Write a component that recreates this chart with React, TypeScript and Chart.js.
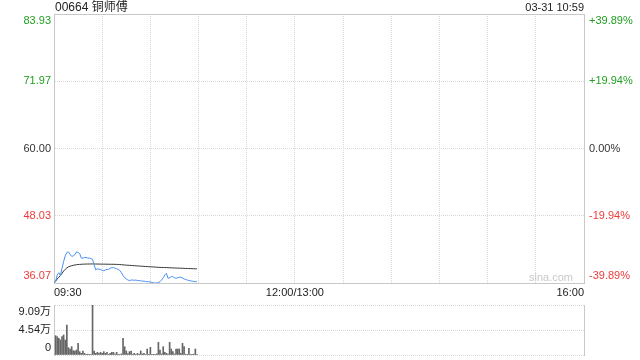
import React, { useEffect, useRef } from 'react';
import { Chart, registerables } from 'chart.js';

Chart.register(...registerables);

const stockTitle = '00664 铜师傅';
const timeStamp = '03-31 10:59';
const watermark = 'sina.com';

// minutes since 09:30 (trading minutes, lunch break removed)
const xTickMinutes = [0, 30, 60, 90, 120, 150, 180, 210, 240, 270, 300, 330];
const xTickLabels = ['09:30', '', '', '', '', '12:00/13:00', '', '', '', '', '', '16:00'];

const priceTickValues = [36.07, 48.035, 60.0, 71.965, 83.93];
const priceTickLabels = ['36.07', '48.03', '60.00', '71.97', '83.93'];
const pctTickLabels = ['-39.89%', '-19.94%', '0.00%', '+19.94%', '+39.89%'];
const tickColors = ['#f03a3a', '#f03a3a', '#333333', '#1f9f1f', '#1f9f1f'];

const volTickValues = [0, 45450, 90900];
const volTickLabels = ['0', '4.54万', '9.09万'];

const priceSeries = [
  36.07, 36.3, 37.5, 37.9, 37.4, 38.7, 39.9, 40.9, 41.5, 41.6,
  41.2, 40.8, 40.9, 41.1, 41.6, 41.5, 41.3, 40.5, 40.5, 40.6,
  40.6, 40.5, 40.5, 40.4, 40.3, 39.3, 38.4, 38.6, 38.5, 38.5,
  38.3, 38.25, 38.4, 38.5, 38.5, 38.7, 38.8, 38.8, 38.7, 38.6,
  38.5, 38.3, 37.9, 37.4, 37.0, 36.8, 36.6, 36.5, 36.6, 36.6,
  36.55, 36.6, 36.5, 36.5, 36.45, 36.4, 36.4, 36.35, 36.3, 36.3,
  36.25, 36.15, 36.1, 36.07, 36.07, 36.15, 36.3, 36.6, 37.0, 37.5,
  37.8, 36.9, 37.0, 37.2, 37.2, 37.0, 36.9, 37.0, 37.1, 37.1,
  36.95, 36.8, 36.7, 36.6, 36.5, 36.45, 36.4, 36.35, 36.3, 36.3,
];

const avgSeries = [
  36.07, 36.4, 36.8, 37.1, 37.4, 37.8, 38.2, 38.5, 38.75, 38.95,
  39.05, 39.15, 39.22, 39.28, 39.32, 39.36, 39.38, 39.4, 39.42, 39.43,
  39.44, 39.45, 39.45, 39.46, 39.46, 39.45, 39.45, 39.44, 39.44, 39.43,
  39.43, 39.42, 39.42, 39.41, 39.41, 39.4, 39.4, 39.4, 39.39, 39.38,
  39.37, 39.35, 39.33, 39.3, 39.27, 39.25, 39.23, 39.21, 39.19, 39.17,
  39.15, 39.13, 39.11, 39.09, 39.07, 39.05, 39.03, 39.01, 38.99, 38.97,
  38.96, 38.94, 38.92, 38.9, 38.88, 38.86, 38.85, 38.84, 38.83, 38.82,
  38.81, 38.79, 38.78, 38.77, 38.76, 38.74, 38.73, 38.72, 38.71, 38.7,
  38.69, 38.67, 38.66, 38.65, 38.64, 38.63, 38.62, 38.61, 38.6, 38.59,
];

const volumeSeries = [
  0, 35100, 33300, 30300, 27300, 33300, 36400, 27300, 54500, 13300,
  10900, 15200, 7900, 7300, 9100, 21200, 6100, 3000, 7300, 3000,
  1200, 1500, 1000, 800, 90900, 7300, 3000, 4800, 3000, 4800,
  3000, 6100, 3000, 4800, 1200, 3000, 4800, 4800, 1500, 4800,
  1200, 800, 2000, 30300, 15000, 7300, 2500, 6100, 7300, 1500,
  3000, 1000, 3000, 1000, 7300, 2000, 3000, 1000, 10900, 1200,
  13900, 1200, 1200, 1000, 2000, 23000, 9100, 2000, 15200, 4800,
  3000, 1500, 23000, 10900, 6100, 2000, 10900, 10900, 10900, 3000,
  21200, 15200, 1200, 1200, 12100, 1200, 1200, 1500, 10900, 1200,
];

const FONT_FAMILY = "'Liberation Sans', Arial, 'Noto Sans CJK SC', sans-serif";
const tickFont = { family: FONT_FAMILY, size: 11 };
const GRID = '#d8d8d8';
const BORDER = '#c8c8c8';

function edgeLabel(label: string, index: number, count: number): string | string[] {
  if (index === 0) return [label, ''];
  if (index === count - 1) return ['', label];
  return label;
}

function fixWidth(width: number) {
  return (s: any) => {
    s.width = width;
    s.paddingTop = 0;
    s.paddingBottom = 0;
  };
}

export default function App() {
  const priceRef = useRef<HTMLCanvasElement | null>(null);
  const volRef = useRef<HTMLCanvasElement | null>(null);

  useEffect(() => {
    if (!priceRef.current || !volRef.current) return;
    Chart.defaults.font.family = FONT_FAMILY;

    const priceChart = new Chart(priceRef.current, {
      type: 'line',
      data: {
        datasets: [
          {
            label: '价格',
            data: priceSeries.map((y, i) => ({ x: i, y })),
            borderColor: '#4a8ef5',
            borderWidth: 1,
            pointRadius: 0,
            tension: 0,
            xAxisID: 'x',
            yAxisID: 'y',
          },
          {
            label: '均价',
            data: avgSeries.map((y, i) => ({ x: i, y })),
            borderColor: '#333333',
            borderWidth: 1,
            pointRadius: 0,
            tension: 0,
            xAxisID: 'x',
            yAxisID: 'y',
          },
        ],
      },
      options: {
        animation: false,
        responsive: false,
        maintainAspectRatio: false,
        layout: { padding: { top: 14, left: 0, right: 0, bottom: 0 } },
        plugins: { legend: { display: false }, tooltip: { enabled: false } },
        scales: {
          x: {
            type: 'linear',
            position: 'bottom',
            min: 0,
            max: 330,
            afterBuildTicks: (s: any) => {
              s.ticks = xTickMinutes.map((v) => ({ value: v }));
            },
            afterFit: (s: any) => {
              s.height = 17;
              s.paddingLeft = 0;
              s.paddingRight = 0;
            },
            ticks: {
              autoSkip: false,
              maxRotation: 0,
              align: 'inner',
              padding: 3,
              color: '#222222',
              font: tickFont,
              callback: (_v: any, i: number) => xTickLabels[i],
            },
            grid: { color: GRID, drawTicks: false },
            border: { display: true, color: BORDER, dash: [1, 1] },
          },
          xTop: {
            type: 'linear',
            position: 'top',
            min: 0,
            max: 330,
            afterFit: (s: any) => {
              s.height = 0;
              s.paddingLeft = 0;
              s.paddingRight = 0;
            },
            ticks: { display: false },
            grid: { display: false, drawTicks: false },
            border: { display: true, color: BORDER },
          },
          y: {
            type: 'linear',
            position: 'left',
            min: priceTickValues[0],
            max: priceTickValues[priceTickValues.length - 1],
            afterBuildTicks: (s: any) => {
              s.ticks = priceTickValues.map((v) => ({ value: v }));
            },
            afterFit: fixWidth(54),
            ticks: {
              padding: 3,
              font: tickFont,
              color: (ctx: any) => tickColors[ctx.index] || '#333',
              callback: (_v: any, i: number) => edgeLabel(priceTickLabels[i], i, priceTickLabels.length),
            },
            grid: { color: GRID, drawTicks: false },
            border: { display: true, color: BORDER, dash: [1, 1] },
          },
          yRight: {
            type: 'linear',
            position: 'right',
            min: priceTickValues[0],
            max: priceTickValues[priceTickValues.length - 1],
            afterBuildTicks: (s: any) => {
              s.ticks = priceTickValues.map((v) => ({ value: v }));
            },
            afterFit: fixWidth(56),
            ticks: {
              padding: 5,
              font: tickFont,
              color: (ctx: any) => tickColors[ctx.index] || '#333',
              callback: (_v: any, i: number) => edgeLabel(pctTickLabels[i], i, pctTickLabels.length),
            },
            grid: { drawOnChartArea: false, drawTicks: false },
            border: { display: true, color: BORDER },
          },
        },
      } as any,
    });

    const volChart = new Chart(volRef.current, {
      type: 'bar',
      data: {
        datasets: [
          {
            label: '成交量',
            data: volumeSeries.map((y, i) => ({ x: i, y })),
            backgroundColor: '#666666',
            barThickness: 1,
            xAxisID: 'x',
            yAxisID: 'y',
          },
        ],
      },
      options: {
        animation: false,
        responsive: false,
        maintainAspectRatio: false,
        layout: { padding: { top: 5, left: 0, right: 0, bottom: 5 } },
        plugins: { legend: { display: false }, tooltip: { enabled: false } },
        scales: {
          x: {
            type: 'linear',
            min: 0,
            max: 330,
            offset: false,
            display: false,
          },
          y: {
            type: 'linear',
            position: 'left',
            min: volTickValues[0],
            max: volTickValues[volTickValues.length - 1],
            afterBuildTicks: (s: any) => {
              s.ticks = volTickValues.map((v) => ({ value: v }));
            },
            afterFit: fixWidth(54),
            ticks: {
              padding: 3,
              autoSkip: false,
              font: tickFont,
              color: '#222222',
              callback: (_v: any, i: number) => edgeLabel(volTickLabels[i], i, volTickLabels.length),
            },
            grid: { color: GRID, drawTicks: false },
            border: { display: true, color: BORDER, dash: [1, 1] },
          },
          yRight: {
            type: 'linear',
            position: 'right',
            min: volTickValues[0],
            max: volTickValues[volTickValues.length - 1],
            afterFit: fixWidth(56),
            ticks: { display: false },
            grid: { drawOnChartArea: false, drawTicks: false },
            border: { display: true, color: BORDER },
          },
        },
      } as any,
    });

    return () => {
      priceChart.destroy();
      volChart.destroy();
    };
  }, []);

  return (
    <div
      style={{
        position: 'fixed',
        left: 0,
        top: 0,
        width: 640,
        height: 360,
        background: '#ffffff',
        fontFamily: FONT_FAMILY,
        overflow: 'hidden',
      }}
    >
      <canvas ref={priceRef} width={640} height={300} style={{ position: 'absolute', left: 0, top: 0 }} />
      <canvas ref={volRef} width={640} height={60} style={{ position: 'absolute', left: 0, top: 300 }} />
      <div
        style={{
          position: 'absolute',
          left: 55,
          top: 0,
          fontSize: 12,
          lineHeight: '15px',
          color: '#222',
          whiteSpace: 'nowrap',
        }}
      >
        {stockTitle}
      </div>
      <div
        style={{
          position: 'absolute',
          right: 56,
          top: 0,
          fontSize: 11,
          lineHeight: '15px',
          color: '#222',
          whiteSpace: 'nowrap',
        }}
      >
        {timeStamp}
      </div>
      <div
        style={{
          position: 'absolute',
          right: 67,
          top: 270,
          fontSize: 11,
          lineHeight: '15px',
          color: '#c8c8c8',
          whiteSpace: 'nowrap',
        }}
      >
        {watermark}
      </div>
    </div>
  );
}
